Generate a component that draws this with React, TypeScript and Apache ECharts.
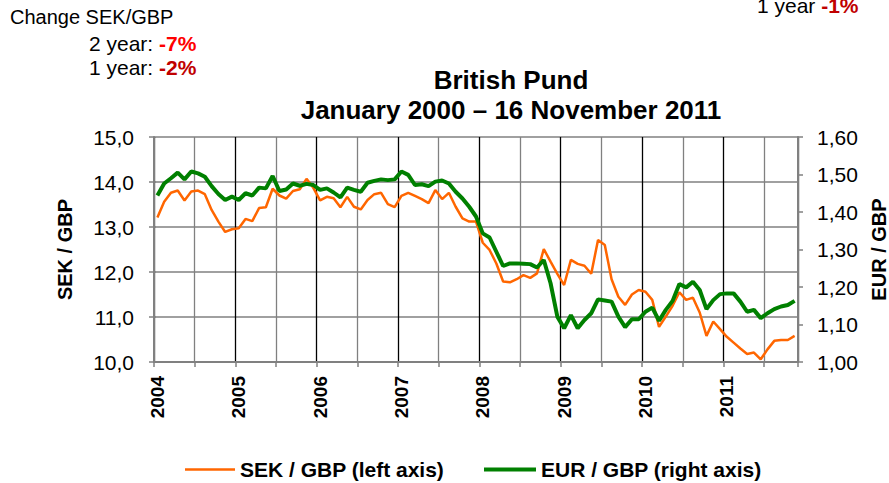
import React, { useEffect, useRef } from "react";
import * as echarts from "echarts";

const years = ["2004", "2005", "2006", "2007", "2008", "2009", "2010", "2011"];
const monthCodes = ["01", "02", "03", "04", "05", "06", "07", "08", "09", "10", "11", "12"];
const lastMonth = "2011-11";

const categories: string[] = [];
for (const y of years) {
  for (const m of monthCodes) {
    const c = y + "-" + m;
    if (c <= lastMonth) categories.push(c);
  }
}

const sekGbp = [
  13.21, 13.56, 13.76, 13.81, 13.59, 13.79, 13.81, 13.73, 13.38, 13.12, 12.89, 12.95,
  12.97, 13.18, 13.13, 13.42, 13.44, 13.85, 13.70, 13.63, 13.80, 13.84, 14.07, 13.87,
  13.59, 13.67, 13.64, 13.44, 13.67, 13.45, 13.39, 13.60, 13.73, 13.76, 13.51, 13.44,
  13.69, 13.76, 13.69, 13.62, 13.53, 13.82, 13.62, 13.76, 13.45, 13.19, 13.12, 13.12,
  12.65, 12.49, 12.19, 11.79, 11.77, 11.84, 11.93, 11.87, 11.97, 12.51, 12.23, 11.96,
  11.71, 12.27, 12.18, 12.14, 11.96, 12.71, 12.60, 11.84, 11.45, 11.27, 11.50, 11.60,
  11.56, 11.38, 10.78, 11.01, 11.25, 11.55, 11.38, 11.43, 11.10, 10.58, 10.90, 10.73,
  10.56, 10.43, 10.30, 10.18, 10.21, 10.06, 10.28, 10.47, 10.49, 10.49, 10.58,
];

const eurGbp = [
  1.444, 1.476, 1.490, 1.505, 1.487, 1.508, 1.503, 1.494, 1.469, 1.448, 1.432, 1.441,
  1.432, 1.450, 1.444, 1.465, 1.463, 1.496, 1.456, 1.460, 1.476, 1.470, 1.475, 1.472,
  1.459, 1.463, 1.452, 1.439, 1.465, 1.459, 1.454, 1.478, 1.483, 1.487, 1.485, 1.487,
  1.508, 1.499, 1.472, 1.474, 1.469, 1.481, 1.484, 1.476, 1.454, 1.436, 1.414, 1.388,
  1.343, 1.332, 1.294, 1.256, 1.263, 1.263, 1.262, 1.261, 1.252, 1.272, 1.210, 1.121,
  1.090, 1.125, 1.090, 1.112, 1.130, 1.167, 1.164, 1.161, 1.121, 1.093, 1.114, 1.114,
  1.134, 1.145, 1.110, 1.139, 1.163, 1.208, 1.199, 1.214, 1.192, 1.141, 1.165, 1.181,
  1.183, 1.183, 1.161, 1.134, 1.139, 1.117, 1.130, 1.141, 1.148, 1.152, 1.163,
];

const seriesNames = ["SEK / GBP (left axis)", "EUR / GBP (right axis)"];
const seriesColors = ["#ff6600", "#008000"];
const titleLines = ["British Pund", "January 2000 – 16 November 2011"];
const changeHeader = "Change SEK/GBP";
const changeRows = [
  { label: "2 year: ", value: "-7%", color: "#ff0000" },
  { label: "1 year: ", value: "-2%", color: "#c00000" },
];
const cornerNote = { label: "1 year ", value: "-1%", color: "#c00000" };

const FONT = "'Liberation Sans', Arial, sans-serif";

export default function App() {
  const ref = useRef<HTMLDivElement>(null);

  useEffect(() => {
    if (!ref.current) return;
    const chart = echarts.init(ref.current, null, { renderer: "svg" });
    const legendText = { fontFamily: FONT, fontSize: 21, fontWeight: "bold", color: "#000" };
    const option: any = {
      animation: false,
      backgroundColor: "#ffffff",
      textStyle: { fontFamily: FONT },
      grid: {
        left: 154,
        right: 91,
        top: 137,
        bottom: 121,
        containLabel: false,
        outerBoundsMode: "none",
      },
      legend: [
        {
          left: 180,
          top: 454,
          icon: "rect",
          itemWidth: 50,
          itemHeight: 2.5,
          textStyle: legendText,
          itemStyle: { color: seriesColors[0] },
          data: [seriesNames[0]],
        },
        {
          left: 479,
          top: 454,
          icon: "rect",
          itemWidth: 52,
          itemHeight: 4,
          textStyle: legendText,
          itemStyle: { color: seriesColors[1] },
          data: [seriesNames[1]],
        },
      ],
      graphic: [
        {
          type: "text",
          left: 10,
          top: 7,
          style: { text: changeHeader, font: `20px ${FONT}`, fill: "#000" },
        },
        ...changeRows.map((r, i) => ({
          type: "text",
          left: 89,
          top: 33 + i * 24,
          style: {
            text: `{a|${r.label}}{b|${r.value}}`,
            rich: {
              a: { fontFamily: FONT, fontSize: 21, fill: "#000" },
              b: { fontFamily: FONT, fontSize: 21, fontWeight: "bold", fill: r.color },
            },
          },
        })),
        {
          type: "text",
          left: 757,
          top: -5,
          style: {
            text: `{a|${cornerNote.label}}{b|${cornerNote.value}}`,
            rich: {
              a: { fontFamily: FONT, fontSize: 21, fill: "#000" },
              b: { fontFamily: FONT, fontSize: 21, fontWeight: "bold", fill: cornerNote.color },
            },
          },
        },
        {
          type: "text",
          x: 511,
          y: 65,
          style: {
            text: titleLines.join("\n"),
            font: `bold 26px ${FONT}`,
            fill: "#000",
            textAlign: "center",
            lineHeight: 30,
          },
        },
      ],
      xAxis: {
        type: "category",
        data: categories,
        boundaryGap: true,
        axisLine: { show: true, lineStyle: { color: "#808080", width: 2 } },
        axisTick: {
          show: true,
          interval: (i: number) => i % 6 === 0,
          length: 5,
          lineStyle: { color: "#808080", width: 1.5 },
        },
        axisLabel: {
          interval: (i: number) => i % 12 === 0,
          rotate: 90,
          formatter: (v: string) => v.slice(0, 4),
          fontFamily: FONT,
          fontSize: 19,
          fontWeight: "bold",
          color: "#000",
          margin: 14,
        },
        splitLine: {
          show: true,
          interval: (i: number) => i % 6 === 0,
          lineStyle: { color: ["#000000", "#808080"], width: 1.3 },
        },
      },
      yAxis: [
        {
          type: "value",
          min: 10,
          max: 15,
          interval: 1,
          name: "SEK / GBP",
          nameLocation: "middle",
          nameRotate: 90,
          nameGap: 79,
          nameTextStyle: { fontFamily: FONT, fontSize: 20, fontWeight: "bold", color: "#000" },
          axisLine: { show: true, lineStyle: { color: "#808080", width: 2 } },
          axisTick: { show: true, length: 5, lineStyle: { color: "#808080", width: 1.5 } },
          axisLabel: {
            fontFamily: FONT,
            fontSize: 21,
            color: "#000",
            margin: 20,
            formatter: (v: number) => v.toFixed(1).replace(".", ","),
          },
          splitLine: { show: true, lineStyle: { color: "#808080", width: 1.6 } },
        },
        {
          type: "value",
          min: 1,
          max: 1.6,
          interval: 0.1,
          position: "right",
          name: "EUR / GBP",
          nameLocation: "middle",
          nameRotate: 90,
          nameGap: 70,
          nameTextStyle: { fontFamily: FONT, fontSize: 20, fontWeight: "bold", color: "#000" },
          axisLine: { show: true, lineStyle: { color: "#808080", width: 2 } },
          axisTick: { show: true, length: 5, lineStyle: { color: "#808080", width: 1.5 } },
          axisLabel: {
            fontFamily: FONT,
            fontSize: 21,
            color: "#000",
            margin: 19,
            formatter: (v: number) => v.toFixed(2).replace(".", ","),
          },
          splitLine: { show: false },
        },
      ],
      series: [
        {
          name: seriesNames[0],
          type: "line",
          yAxisIndex: 0,
          data: sekGbp,
          symbol: "none",
          color: seriesColors[0],
          lineStyle: { color: seriesColors[0], width: 2.5 },
        },
        {
          name: seriesNames[1],
          type: "line",
          yAxisIndex: 1,
          data: eurGbp,
          symbol: "none",
          color: seriesColors[1],
          lineStyle: { color: seriesColors[1], width: 4 },
        },
      ],
    };
    chart.setOption(option);
    return () => chart.dispose();
  }, []);

  return (
    <div
      ref={ref}
      style={{ position: "fixed", left: 0, top: 0, width: 889, height: 483, background: "#fff" }}
    />
  );
}
